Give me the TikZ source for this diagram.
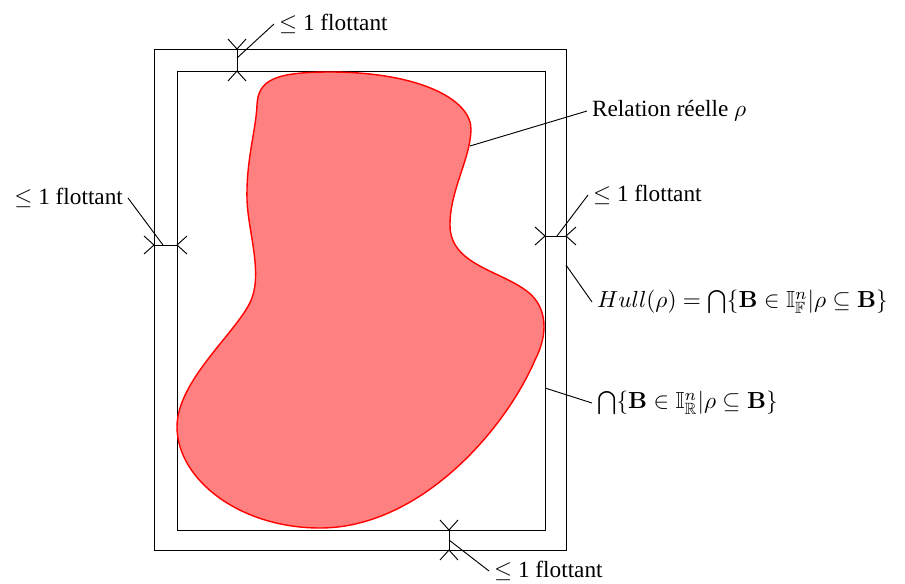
\documentclass[tikz,border=0pt]{standalone}
\usepackage{amsmath,amssymb}
\usepackage[no-math]{fontspec}
\setmainfont{Liberation Serif}
\usepackage{tikz}
\usetikzlibrary{calc,positioning}

% barbs at a point: #2,#3 = outward direction
\newcommand{\barbs}[3]{\draw (#1) ++({10*(#2)-9*(#3)},{10*(#3)+9*(#2)}) -- (#1) -- ++({10*(#2)+9*(#3)},{10*(#3)-9*(#2)});}

\begin{document}
\begin{tikzpicture}[x=0.43pt,y=-0.43pt,every node/.style={font=\normalsize,inner sep=2pt}]
\useasboundingbox (0,0) rectangle (905,583);
% hulls
\draw[thin] (154,49) rectangle (566,550);
\draw[thin] (177,71) rectangle (545,530);
% relation
\draw[red,semithick,fill=red!50] (257,105) .. controls (258,80) and (275,72) .. (330,72)
 .. controls (420,72) and (472,100) .. (471,130)
 .. controls (470,160) and (450,190) .. (450,225)
 .. controls (450,265) and (500,270) .. (528,292)
 .. controls (548,308) and (548,335) .. (535,360)
 .. controls (505,430) and (420,528) .. (320,528)
 .. controls (240,528) and (178,480) .. (177,428)
 .. controls (176,380) and (240,330) .. (252,298)
 .. controls (262,270) and (248,230) .. (247,200)
 .. controls (246,160) and (256,130) .. (257,105) -- cycle;
% one-float gaps
\coordinate (tA) at (237,49); \coordinate (tB) at (237,71);
\coordinate (lA) at (154,245); \coordinate (lB) at (177,245);
\coordinate (rA) at (545,236); \coordinate (rB) at (566,236);
\coordinate (bA) at (449,530); \coordinate (bB) at (449,550);
\draw (tA) -- (tB); \barbs{tA}{0}{-1} \barbs{tB}{0}{1}
\draw (lA) -- (lB); \barbs{lA}{-1}{0} \barbs{lB}{1}{0}
\draw (rA) -- (rB); \barbs{rA}{-1}{0} \barbs{rB}{1}{0}
\draw (bA) -- (bB); \barbs{bA}{0}{-1} \barbs{bB}{0}{1}
% labels
\node[anchor=west] (top) at (274,24) {$\leq$ 1 flottant};
\node[anchor=east] (left) at (128,198) {$\leq$ 1 flottant};
\node[anchor=west] (right) at (588,195) {$\leq$ 1 flottant};
\node[anchor=west] (bot) at (489,571) {$\leq$ 1 flottant};
\node[anchor=west] (rel) at (587,111) {Relation réelle $\rho$};
\node[anchor=west] (hullF) at (592,302) {$Hull(\rho)=\bigcap\{\mathbf{B}\in\mathbb{I}_{\mathbb{F}}^n|\rho\subseteq\mathbf{B}\}$};
\node[anchor=west] (hullR) at (592,403) {$\bigcap\{\mathbf{B}\in\mathbb{I}_{\mathbb{R}}^n|\rho\subseteq\mathbf{B}\}$};
% leaders
\draw (237,58) -- (top.west);
\draw (163,245) -- (left.east);
\draw (557,236) -- (right.west);
\draw (449,540) -- (bot.west);
\draw (470,146) -- (rel.west);
\draw (566,265) -- (hullF.west);
\draw (545,388) -- (hullR.west);
\end{tikzpicture}
\end{document}
